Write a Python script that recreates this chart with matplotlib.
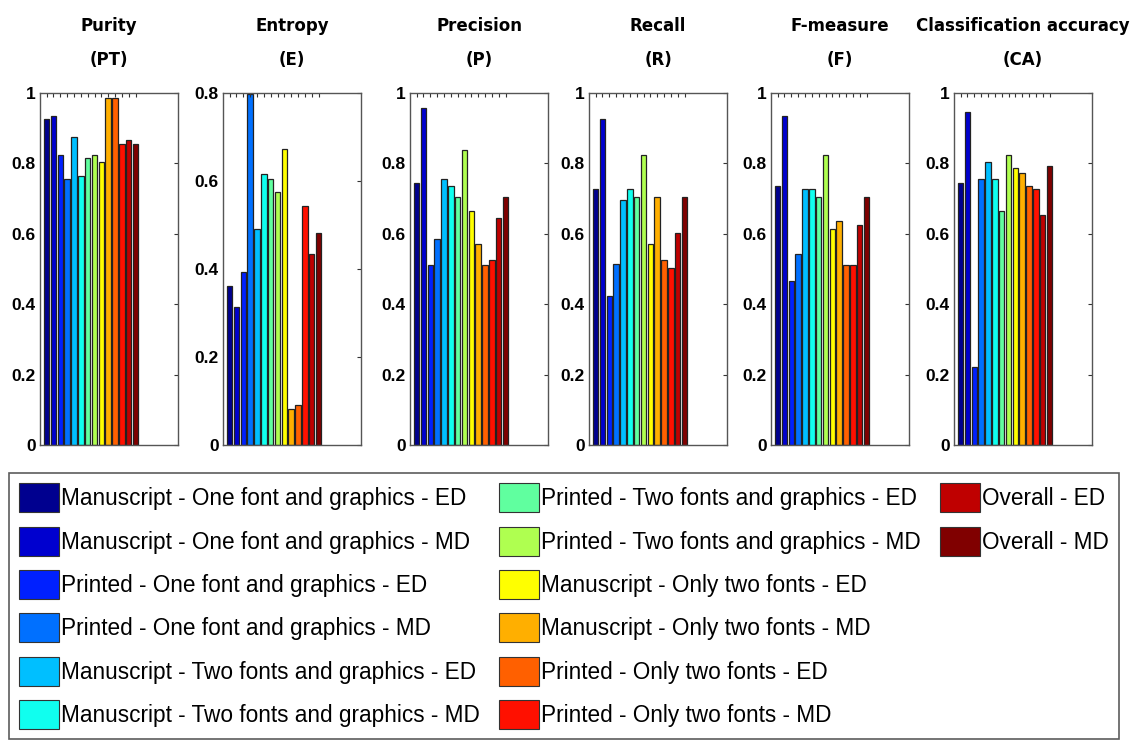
import numpy as np
import matplotlib
matplotlib.use("Agg")
import matplotlib.pyplot as plt
from matplotlib import font_manager
from matplotlib.patches import Patch

# Data
methods = [
    "Manuscript - One font and graphics - ED",
    "Manuscript - One font and graphics - MD",
    "Printed - One font and graphics - ED",
    "Printed - One font and graphics - MD",
    "Manuscript - Two fonts and graphics - ED",
    "Manuscript - Two fonts and graphics - MD",
    "Printed - Two fonts and graphics - ED",
    "Printed - Two fonts and graphics - MD",
    "Manuscript - Only two fonts - ED",
    "Manuscript - Only two fonts - MD",
    "Printed - Only two fonts - ED",
    "Printed - Only two fonts - MD",
    "Overall - ED",
    "Overall - MD",
]

titles = ["Purity\n(PT)", "Entropy\n(E)", "Precision\n(P)", "Recall\n(R)",
          "F-measure\n(F)", "Classification accuracy\n(CA)"]

purity = [0.927, 0.936, 0.825, 0.756, 0.876, 0.764, 0.816, 0.824, 0.803, 0.986, 0.986, 0.854, 0.867, 0.854]
entropy = [0.362, 0.314, 0.393, 0.797, 0.491, 0.615, 0.605, 0.574, 0.673, 0.081, 0.091, 0.543, 0.434, 0.482]
precision = [0.743, 0.956, 0.512, 0.585, 0.756, 0.735, 0.705, 0.838, 0.666, 0.572, 0.512, 0.525, 0.645, 0.705]
recall = [0.728, 0.927, 0.422, 0.513, 0.695, 0.728, 0.705, 0.824, 0.572, 0.705, 0.525, 0.503, 0.602, 0.705]
fmeasure = [0.735, 0.936, 0.465, 0.543, 0.727, 0.727, 0.705, 0.824, 0.614, 0.636, 0.512, 0.512, 0.624, 0.705]
accuracy = [0.743, 0.945, 0.222, 0.756, 0.803, 0.756, 0.665, 0.824, 0.786, 0.773, 0.735, 0.726, 0.654, 0.794]

series = [purity, entropy, precision, recall, fmeasure, accuracy]
ymax = [1, 0.8, 1, 1, 1, 1]


def matlab_jet(m=64):
    # MATLAB's jet colormap
    n = int(np.ceil(m / 4))
    u = np.concatenate([np.arange(1, n + 1) / n, np.ones(n - 1), np.arange(n, 0, -1) / n])
    g = int(np.ceil(n / 2)) - (1 if m % 4 == 1 else 0) + np.arange(1, len(u) + 1)
    r = g + n
    b = g - n
    g = g[g <= m]
    r = r[r <= m]
    b = b[b >= 1]
    J = np.zeros((m, 3))
    J[r - 1, 0] = u[:len(r)]
    J[g - 1, 1] = u[:len(g)]
    J[b - 1, 2] = u[len(u) - len(b):]
    return J


jet = matlab_jet(64)
k = len(methods)
colors = [jet[min(int(i / (k - 1) * 64), 63)] for i in range(k)]

plt.rcParams["font.family"] = ["Liberation Sans", "DejaVu Sans"]

# look for a condensed bold face for the titles
title_font = None
for f in font_manager.fontManager.ttflist:
    nm = f.name.lower()
    st = str(f.stretch).lower()
    narrow = "narrow" in nm or "condensed" in nm or "condensed" in st
    bold = str(f.weight).lower() in ("bold", "700")
    if narrow and bold:
        title_font = font_manager.FontProperties(fname=f.fname)
        break

W, H = 1134, 740
fig = plt.figure(figsize=(W / 100, H / 100), dpi=100)

lefts = [40, 223, 410, 589, 771, 954]
x = np.arange(1, k + 1)
for j in range(6):
    ax = fig.add_axes([lefts[j] / W, 1 - 445 / H, 138 / W, 352 / H])
    ax.bar(x, series[j], width=0.8, color=colors, edgecolor="#222222", linewidth=0.9)
    ax.set_xlim(0.03, 20.2)
    ax.set_ylim(0, ymax[j])
    yt = np.round(np.arange(0, ymax[j] + 0.01, 0.2), 1)
    ax.set_yticks(yt)
    ax.set_yticklabels(["%g" % v for v in yt], fontsize=12.5, fontweight="bold")
    ax.set_xticks(x)
    ax.set_xticklabels([])
    ax.tick_params(axis="x", direction="in", top=True, bottom=False, length=3, width=0.8, color="#333333")
    ax.tick_params(axis="y", direction="in", left=False, right=True, length=3, width=0.8,
                   color="#333333", pad=3)
    for s in ax.spines.values():
        s.set_color("#555555")
        s.set_linewidth(1.0)
    if title_font is not None:
        fp = title_font.copy()
        fp.set_size(13.3)
        ax.set_title(titles[j], fontproperties=fp, linespacing=2.15, pad=20)
    else:
        ax.set_title(titles[j], fontsize=12.5, fontweight="bold", linespacing=2.2, pad=20)

handles = [Patch(facecolor=c, edgecolor="#333333", linewidth=0.8) for c in colors]
labels = list(methods)
# pad the third column so the legend has six rows
blank = Patch(facecolor="none", edgecolor="none")
handles = handles + [blank] * 4
labels = labels + [""] * 4
leg = fig.legend(handles, labels, loc="upper left", bbox_to_anchor=(9 / W, 1 - 473 / H),
                 ncol=3, fontsize=16.3, frameon=True, fancybox=False, edgecolor="#333333",
                 handlelength=1.75, handleheight=1.6, handletextpad=0.1, labelspacing=0.63,
                 columnspacing=0.85, borderpad=0.45, borderaxespad=0)
leg.get_frame().set_linewidth(1.2)

fig.savefig("out.png", dpi=100)
